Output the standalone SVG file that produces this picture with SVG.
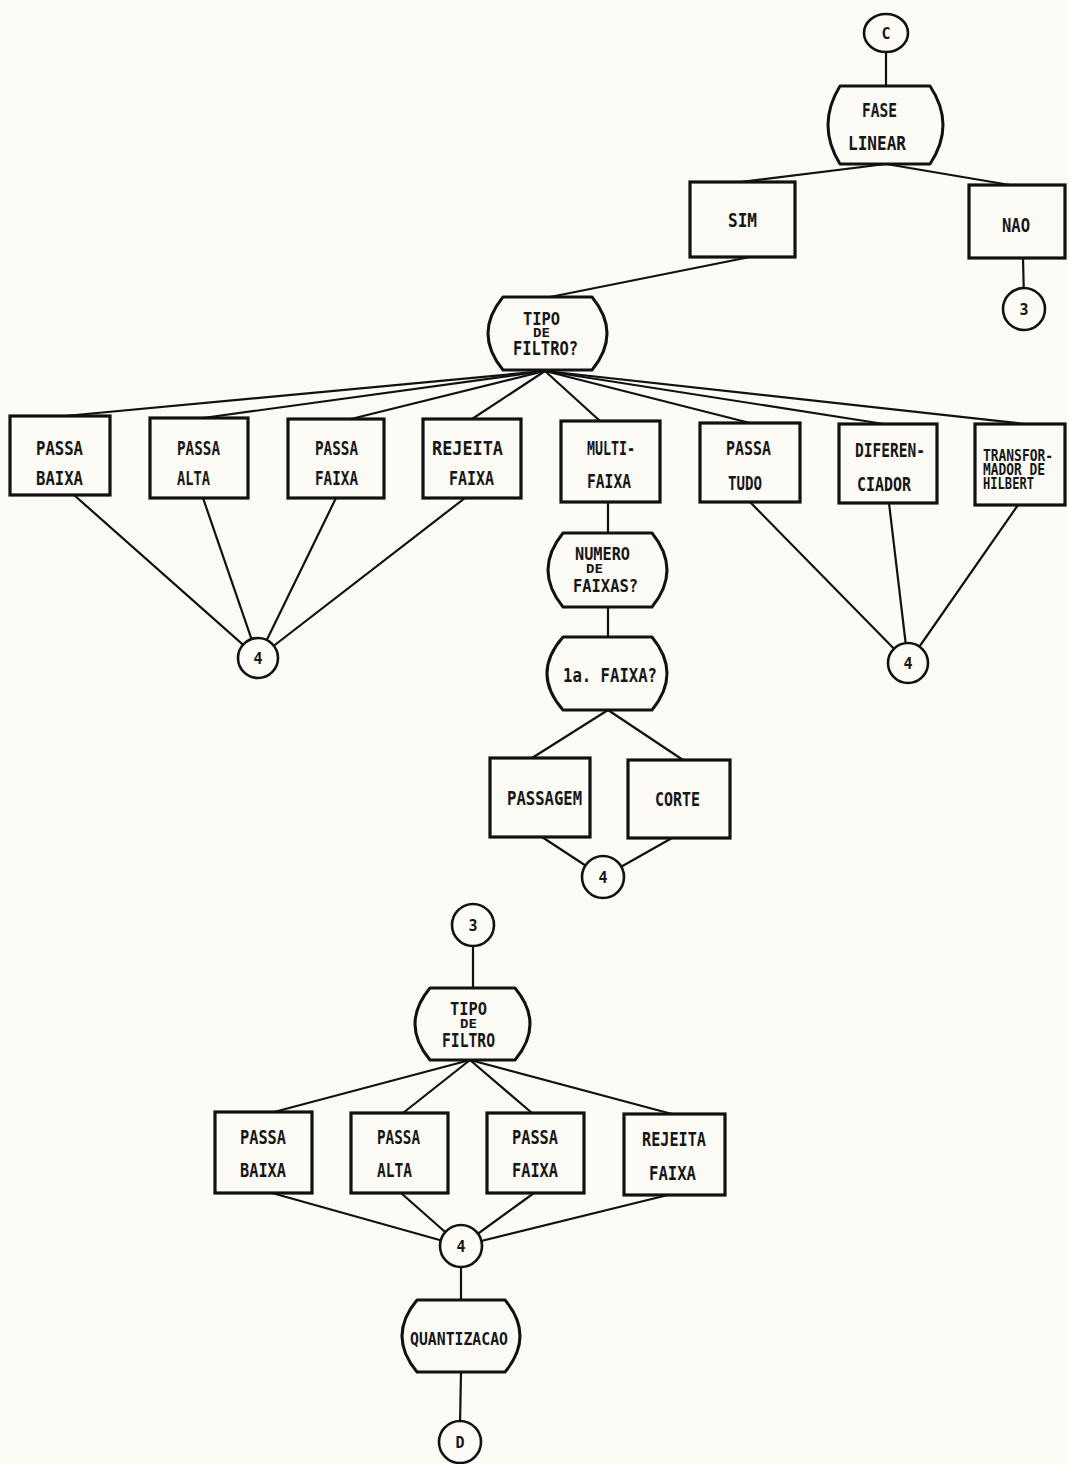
<svg xmlns="http://www.w3.org/2000/svg" width="1069" height="1464" viewBox="0 0 1069 1464">
<style>
.bg{fill:#fcfbf6}
.ln{stroke:#111;stroke-width:2.2;fill:none;stroke-linecap:round}
.box{stroke:#111;stroke-width:3.2;fill:#fcfbf6}
.term{stroke:#111;stroke-width:3;fill:#fcfbf6;stroke-linejoin:round}
.con{stroke:#111;stroke-width:2.6;fill:#fcfbf6}
text{font-family:"DejaVu Sans Mono","Liberation Mono",monospace;font-weight:bold;fill:#161616;font-size:20px}
.s18{font-size:18px}
.s15{font-size:15px}
.s12{font-size:12px}
.c{font-size:15px;text-anchor:middle}
</style>
<rect class="bg" x="0" y="0" width="1069" height="1464"/>
<g id="connectors">
<line class="ln" x1="886" y1="52" x2="886" y2="86"/>
<line class="ln" x1="886" y1="164" x2="740" y2="182"/>
<line class="ln" x1="886" y1="164" x2="1010" y2="185"/>
<line class="ln" x1="1023" y1="258" x2="1024" y2="300"/>
<line class="ln" x1="750" y1="257" x2="550" y2="297"/>
<line class="ln" x1="545" y1="371" x2="65" y2="416"/>
<line class="ln" x1="545" y1="371" x2="203" y2="418"/>
<line class="ln" x1="545" y1="371" x2="351" y2="419"/>
<line class="ln" x1="545" y1="371" x2="472" y2="419"/>
<line class="ln" x1="545" y1="371" x2="600" y2="421"/>
<line class="ln" x1="545" y1="371" x2="750" y2="423"/>
<line class="ln" x1="545" y1="371" x2="884" y2="424"/>
<line class="ln" x1="545" y1="371" x2="1025" y2="424"/>
<line class="ln" x1="74" y1="495" x2="258" y2="658"/>
<line class="ln" x1="203" y1="498" x2="258" y2="658"/>
<line class="ln" x1="336" y1="498" x2="258" y2="658"/>
<line class="ln" x1="465" y1="498" x2="258" y2="658"/>
<line class="ln" x1="750" y1="502" x2="908" y2="663"/>
<line class="ln" x1="889" y1="503" x2="908" y2="663"/>
<line class="ln" x1="1018" y1="505" x2="908" y2="663"/>
<line class="ln" x1="608" y1="502" x2="608" y2="533"/>
<line class="ln" x1="608" y1="607" x2="608" y2="637"/>
<line class="ln" x1="608" y1="710" x2="532" y2="758"/>
<line class="ln" x1="608" y1="710" x2="683" y2="760"/>
<line class="ln" x1="542" y1="837" x2="603" y2="877"/>
<line class="ln" x1="672" y1="838" x2="603" y2="877"/>
<line class="ln" x1="473" y1="940" x2="473" y2="988"/>
<line class="ln" x1="470" y1="1060" x2="274" y2="1112"/>
<line class="ln" x1="470" y1="1060" x2="403" y2="1113"/>
<line class="ln" x1="470" y1="1060" x2="532" y2="1113"/>
<line class="ln" x1="470" y1="1060" x2="672" y2="1114"/>
<line class="ln" x1="272" y1="1193" x2="461" y2="1246"/>
<line class="ln" x1="401" y1="1193" x2="461" y2="1246"/>
<line class="ln" x1="534" y1="1193" x2="461" y2="1246"/>
<line class="ln" x1="668" y1="1195" x2="461" y2="1246"/>
<line class="ln" x1="461" y1="1260" x2="461" y2="1300"/>
<line class="ln" x1="461" y1="1372" x2="460" y2="1425"/>
</g>
<g id="nC"><ellipse class="con" cx="886" cy="33" rx="22" ry="19"/><text class="c" x="886" y="39">C</text></g>
<g id="nFase"><path class="term" d="M840,86 H930 Q956,125 930,164 H840 Q816,125 840,86 Z"/><text x="862" y="117" textLength="35" lengthAdjust="spacingAndGlyphs">FASE</text><text x="848" y="150" textLength="58" lengthAdjust="spacingAndGlyphs">LINEAR</text></g>
<g id="nSim"><rect class="box" x="690" y="182" width="105" height="75"/><text x="728" y="227" textLength="29" lengthAdjust="spacingAndGlyphs">SIM</text></g>
<g id="nNao"><rect class="box" x="969" y="185" width="96" height="73"/><text x="1002" y="232" textLength="28" lengthAdjust="spacingAndGlyphs">NAO</text></g>
<g id="n3a"><circle class="con" cx="1024" cy="309" r="21"/><text class="c" x="1024" y="315">3</text></g>
<g id="nTipo1"><path class="term" d="M503,297 H592 Q622,333.5 592,370 H503 Q473,333.5 503,297 Z"/><text class="s18" x="523" y="325" textLength="37" lengthAdjust="spacingAndGlyphs">TIPO</text><text class="s12" x="533" y="337" textLength="17" lengthAdjust="spacingAndGlyphs">DE</text><text x="513" y="355" textLength="65" lengthAdjust="spacingAndGlyphs">FILTRO?</text></g>
<g id="nPB1"><rect class="box" x="10" y="416" width="100" height="79"/><text x="36" y="455" textLength="47" lengthAdjust="spacingAndGlyphs">PASSA</text><text x="36" y="485" textLength="47" lengthAdjust="spacingAndGlyphs">BAIXA</text></g>
<g id="nPA1"><rect class="box" x="150" y="418" width="98" height="80"/><text x="177" y="455" textLength="43" lengthAdjust="spacingAndGlyphs">PASSA</text><text x="177" y="485" textLength="33" lengthAdjust="spacingAndGlyphs">ALTA</text></g>
<g id="nPF1"><rect class="box" x="288" y="419" width="96" height="79"/><text x="315" y="455" textLength="43" lengthAdjust="spacingAndGlyphs">PASSA</text><text x="315" y="485" textLength="43" lengthAdjust="spacingAndGlyphs">FAIXA</text></g>
<g id="nRF1"><rect class="box" x="423" y="419" width="98" height="79"/><text x="432" y="455" textLength="71" lengthAdjust="spacingAndGlyphs">REJEITA</text><text x="449" y="485" textLength="45" lengthAdjust="spacingAndGlyphs">FAIXA</text></g>
<g id="nMF"><rect class="box" x="561" y="421" width="99" height="81"/><text x="587" y="455" textLength="48" lengthAdjust="spacingAndGlyphs">MULTI-</text><text x="587" y="488" textLength="44" lengthAdjust="spacingAndGlyphs">FAIXA</text></g>
<g id="nPT"><rect class="box" x="700" y="423" width="100" height="79"/><text x="726" y="455" textLength="45" lengthAdjust="spacingAndGlyphs">PASSA</text><text x="728" y="490" textLength="34" lengthAdjust="spacingAndGlyphs">TUDO</text></g>
<g id="nDif"><rect class="box" x="839" y="424" width="98" height="79"/><text x="855" y="457" textLength="70" lengthAdjust="spacingAndGlyphs">DIFEREN-</text><text x="857" y="491" textLength="54" lengthAdjust="spacingAndGlyphs">CIADOR</text></g>
<g id="nTH"><rect class="box" x="975" y="424" width="90" height="81"/><text class="s15" x="983" y="461" textLength="70" lengthAdjust="spacingAndGlyphs">TRANSFOR-</text><text class="s15" x="983" y="475" textLength="62" lengthAdjust="spacingAndGlyphs">MADOR DE</text><text class="s15" x="983" y="489" textLength="51" lengthAdjust="spacingAndGlyphs">HILBERT</text></g>
<g id="n4a"><circle class="con" cx="258" cy="658" r="20"/><text class="c" x="258" y="664">4</text></g>
<g id="n4b"><circle class="con" cx="908" cy="663" r="20"/><text class="c" x="908" y="669">4</text></g>
<g id="nNum"><path class="term" d="M563,533 H652 Q682,570 652,607 H563 Q533,570 563,533 Z"/><text class="s18" x="575" y="560" textLength="55" lengthAdjust="spacingAndGlyphs">NUMERO</text><text class="s12" x="586" y="573" textLength="17" lengthAdjust="spacingAndGlyphs">DE</text><text class="s18" x="573" y="592" textLength="65" lengthAdjust="spacingAndGlyphs">FAIXAS?</text></g>
<g id="n1a"><path class="term" d="M563,637 H652 Q682,673.5 652,710 H563 Q531,673.5 563,637 Z"/><text x="563" y="682" textLength="94" lengthAdjust="spacingAndGlyphs">1a. FAIXA?</text></g>
<g id="nPas"><rect class="box" x="490" y="758" width="100" height="79"/><text x="507" y="805" textLength="75" lengthAdjust="spacingAndGlyphs">PASSAGEM</text></g>
<g id="nCor"><rect class="box" x="628" y="760" width="102" height="78"/><text x="655" y="806" textLength="45" lengthAdjust="spacingAndGlyphs">CORTE</text></g>
<g id="n4c"><circle class="con" cx="603" cy="877" r="21"/><text class="c" x="603" y="883">4</text></g>
<g id="n3b"><circle class="con" cx="473" cy="925" r="21"/><text class="c" x="473" y="931">3</text></g>
<g id="nTipo2"><path class="term" d="M430,988 H515 Q545,1024 515,1060 H430 Q400,1024 430,988 Z"/><text class="s18" x="450" y="1015" textLength="37" lengthAdjust="spacingAndGlyphs">TIPO</text><text class="s12" x="460" y="1028" textLength="17" lengthAdjust="spacingAndGlyphs">DE</text><text x="442" y="1047" textLength="53" lengthAdjust="spacingAndGlyphs">FILTRO</text></g>
<g id="nPB2"><rect class="box" x="215" y="1112" width="97" height="81"/><text x="240" y="1144" textLength="46" lengthAdjust="spacingAndGlyphs">PASSA</text><text x="240" y="1177" textLength="46" lengthAdjust="spacingAndGlyphs">BAIXA</text></g>
<g id="nPA2"><rect class="box" x="351" y="1113" width="97" height="80"/><text x="377" y="1144" textLength="43" lengthAdjust="spacingAndGlyphs">PASSA</text><text x="377" y="1177" textLength="35" lengthAdjust="spacingAndGlyphs">ALTA</text></g>
<g id="nPF2"><rect class="box" x="487" y="1113" width="97" height="80"/><text x="512" y="1144" textLength="46" lengthAdjust="spacingAndGlyphs">PASSA</text><text x="512" y="1177" textLength="46" lengthAdjust="spacingAndGlyphs">FAIXA</text></g>
<g id="nRF2"><rect class="box" x="624" y="1114" width="101" height="81"/><text x="642" y="1146" textLength="64" lengthAdjust="spacingAndGlyphs">REJEITA</text><text x="649" y="1180" textLength="47" lengthAdjust="spacingAndGlyphs">FAIXA</text></g>
<g id="n4d"><circle class="con" cx="461" cy="1246" r="21"/><text class="c" x="461" y="1252">4</text></g>
<g id="nQuant"><path class="term" d="M417,1300 H505 Q535,1336 505,1372 H417 Q387,1336 417,1300 Z"/><text class="s18" x="410" y="1345" textLength="98" lengthAdjust="spacingAndGlyphs">QUANTIZACAO</text></g>
<g id="nD"><circle class="con" cx="460" cy="1442" r="21"/><text class="c" x="460" y="1448">D</text></g>
</svg>
